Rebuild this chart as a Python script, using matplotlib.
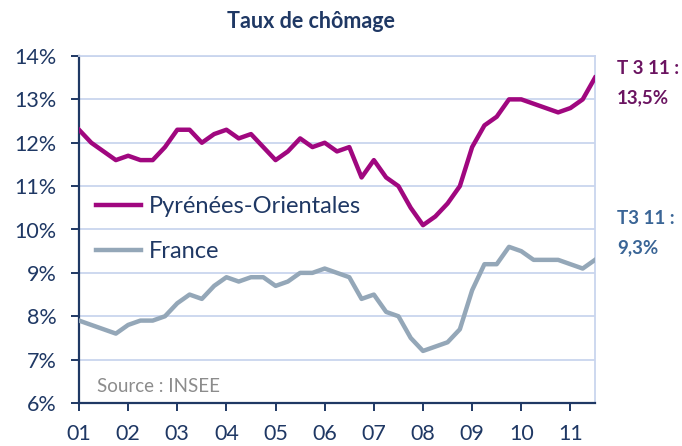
import numpy as np
import matplotlib
matplotlib.use("Agg")
import matplotlib.pyplot as plt

# Quarterly unemployment rate, T1 2001 -> T3 2011
years = ["01", "02", "03", "04", "05", "06", "07", "08", "09", "10", "11"]
pyrenees = [12.3, 12.0, 11.8, 11.6, 11.7, 11.6, 11.6, 11.9, 12.3, 12.3, 12.0,
            12.2, 12.3, 12.1, 12.2, 11.9, 11.6, 11.8, 12.1, 11.9, 12.0, 11.8,
            11.9, 11.2, 11.6, 11.2, 11.0, 10.5, 10.1, 10.3, 10.6, 11.0, 11.9,
            12.4, 12.6, 13.0, 13.0, 12.9, 12.8, 12.7, 12.8, 13.0, 13.5]
france = [7.9, 7.8, 7.7, 7.6, 7.8, 7.9, 7.9, 8.0, 8.3, 8.5, 8.4, 8.7, 8.9,
          8.8, 8.9, 8.9, 8.7, 8.8, 9.0, 9.0, 9.1, 9.0, 8.9, 8.4, 8.5, 8.1,
          8.0, 7.5, 7.2, 7.3, 7.4, 7.7, 8.6, 9.2, 9.2, 9.6, 9.5, 9.3, 9.3,
          9.3, 9.2, 9.1, 9.3]

navy = "#1F3864"
grid_col = "#C9D5EE"
purple = "#A0077F"
grey = "#94A7B8"

plt.rcParams["font.family"] = ["Lato", "DejaVu Sans"]

fig = plt.figure(figsize=(6.82, 4.46), dpi=100)
ax = fig.add_axes([79 / 682, 43 / 446, 516 / 682, 347 / 446])

x = np.arange(len(pyrenees))
ax.plot(x, pyrenees, color=purple, lw=3.2, label="Pyrénées-Orientales", zorder=3)
ax.plot(x, france, color=grey, lw=3.2, label="France", zorder=3)

ax.set_xlim(0, len(pyrenees) - 1)
ax.set_ylim(6, 14)
ax.set_yticks(range(6, 15))
ax.set_yticklabels([f"{v}%" for v in range(6, 15)])
ax.set_xticks(np.arange(0, len(pyrenees), 4))
ax.set_xticklabels(years)

ax.grid(axis="y", color=grid_col, lw=1.3, zorder=0)
for s in ["top", "right"]:
    ax.spines[s].set_color(grid_col)
    ax.spines[s].set_linewidth(1.3)
for s in ["left", "bottom"]:
    ax.spines[s].set_color(navy)
    ax.spines[s].set_linewidth(1.6)
ax.tick_params(colors=navy, labelsize=15.5, length=6, width=1.4, direction="out")
ax.tick_params(axis="x", pad=9)
ax.tick_params(axis="y", pad=10)

leg = ax.legend(loc="center left", bbox_to_anchor=(96 / 682, 1 - 229 / 446),
                bbox_transform=fig.transFigure, frameon=False,
                fontsize=17, handlelength=1.9, handletextpad=0.35,
                labelspacing=1.0, borderaxespad=0, borderpad=0)
for t in leg.get_texts():
    t.set_color(navy)

ax.text(97 / 682, 1 - 387 / 446, "Source : INSEE", transform=fig.transFigure,
        color="#8C8C8C", fontsize=13.5, va="center")

fig.text(311 / 682, 1 - 21 / 446, "Taux de chômage", ha="center", va="center",
         fontsize=15.5, fontweight="bold", color=navy)

fig.text(617 / 682, 1 - 69 / 446, "T 3 11 :", ha="left", va="center",
         fontsize=13.5, fontweight="bold", color="#6B1461")
fig.text(617 / 682, 1 - 98 / 446, "13,5%", ha="left", va="center",
         fontsize=13.5, fontweight="bold", color="#6B1461")
fig.text(617 / 682, 1 - 218 / 446, "T3 11 :", ha="left", va="center",
         fontsize=13.5, fontweight="bold", color="#3A6596")
fig.text(617 / 682, 1 - 248 / 446, "9,3%", ha="left", va="center",
         fontsize=13.5, fontweight="bold", color="#3A6596")

fig.savefig("out.png", dpi=100)
